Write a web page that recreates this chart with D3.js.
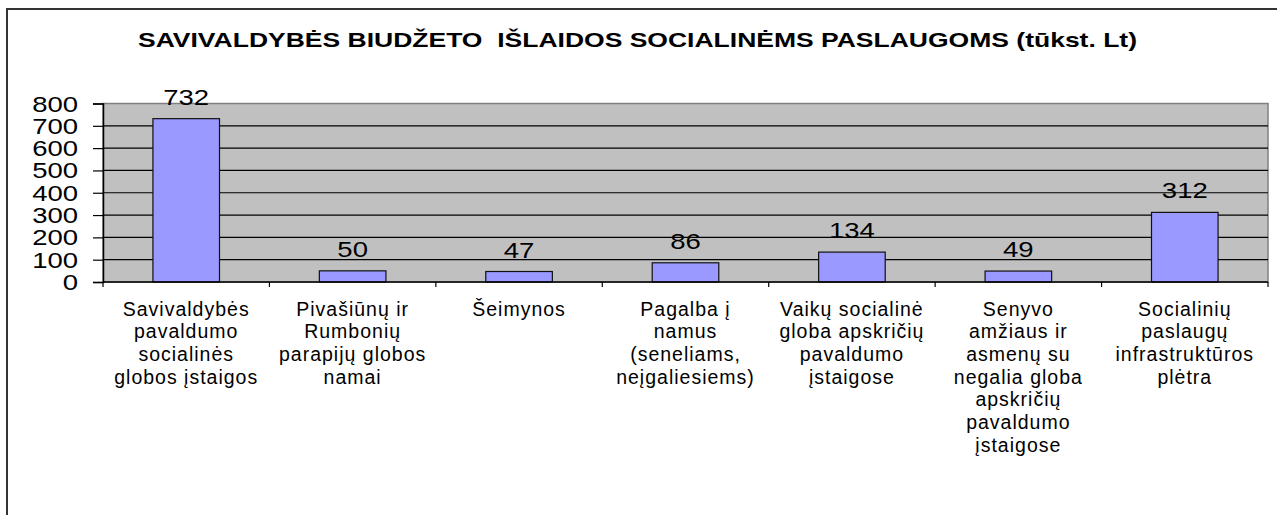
<!DOCTYPE html>
<html>
<head>
<meta charset="utf-8">
<script src="https://cdn.jsdelivr.net/npm/d3@7"></script>
<style>
  body { margin: 0; background: #fff; }
  text { font-family: "Liberation Sans", Arial, sans-serif; fill: #000; }
</style>
</head>
<body>
<div id="container"></div>
<script>
// chart data
const categories = [
    ["Savivaldybės", "pavaldumo", "socialinės", "globos įstaigos"],
    ["Pivašiūnų ir", "Rumbonių", "parapijų globos", "namai"],
    ["Šeimynos"],
    ["Pagalba į", "namus", "(seneliams,", "neįgaliesiems)"],
    ["Vaikų socialinė", "globa apskričių", "pavaldumo", "įstaigose"],
    ["Senyvo", "amžiaus ir", "asmenų su", "negalia globa", "apskričių", "pavaldumo", "įstaigose"],
    ["Socialinių", "paslaugų", "infrastruktūros", "plėtra"]
];
const values = [732, 50, 47, 86, 134, 49, 312];
const yTicks = [0, 100, 200, 300, 400, 500, 600, 700, 800];
const title = "SAVIVALDYBĖS BIUDŽETO  IŠLAIDOS SOCIALINĖMS PASLAUGOMS (tūkst. Lt)";

// layout constants
const WIDTH = 1277;
const HEIGHT = 515;
const PLOT = { left: 103, right: 1268, top: 103.5, bottom: 282 };
const NUM_STRETCH = 1.25;

const svg = d3.select("#container")
    .append("svg")
    .attr("width", WIDTH)
    .attr("height", HEIGHT);

// outer chart frame
svg.append("rect")
    .attr("x", 7).attr("y", 9)
    .attr("width", WIDTH + 20).attr("height", HEIGHT + 20)
    .attr("fill", "none")
    .attr("stroke", "#333")
    .attr("stroke-width", 2);

// title
svg.append("text")
    .attr("x", 138)
    .attr("y", 47)
    .attr("font-size", 21)
    .attr("font-weight", "bold")
    .attr("textLength", 999)
    .attr("lengthAdjust", "spacingAndGlyphs")
    .style("white-space", "pre")
    .text(title);

const xScale = d3.scaleBand()
    .domain(d3.range(values.length))
    .range([PLOT.left, PLOT.right])
    .paddingInner(0.6)
    .paddingOuter(0.3);

const xGroup = d3.scaleBand()
    .domain(d3.range(values.length))
    .range([PLOT.left, PLOT.right]);

const yScale = d3.scaleLinear()
    .domain([0, 800])
    .range([PLOT.bottom, PLOT.top]);

// plot background
svg.append("rect")
    .attr("x", PLOT.left).attr("y", PLOT.top)
    .attr("width", PLOT.right - PLOT.left)
    .attr("height", PLOT.bottom - PLOT.top)
    .attr("fill", "#c0c0c0")
    .attr("stroke", "#808080")
    .attr("stroke-width", 1.5);

// gridlines
svg.append("g")
    .selectAll("line")
    .data(yTicks.filter(d => d > 0 && d < 800))
    .enter()
    .append("line")
    .attr("x1", PLOT.left).attr("x2", PLOT.right)
    .attr("y1", d => yScale(d)).attr("y2", d => yScale(d))
    .attr("stroke", "#000")
    .attr("stroke-width", 1.2);

// y axis
const leftAxis = d3.axisLeft(yScale)
    .tickValues(yTicks)
    .tickSize(10)
    .tickPadding(0)
    .tickFormat("");

const yAxisG = svg.append("g")
    .attr("transform", "translate(" + PLOT.left + ",0)")
    .call(leftAxis);
yAxisG.select(".domain").attr("stroke", "#000").attr("stroke-width", 1.5);
yAxisG.selectAll(".tick line").attr("stroke", "#000").attr("stroke-width", 1.2);

svg.append("g")
    .selectAll("text")
    .data(yTicks)
    .enter()
    .append("text")
    .attr("transform", d => "translate(78," + (yScale(d) + 8) + ") scale(" + NUM_STRETCH + ",1)")
    .attr("text-anchor", "end")
    .attr("font-size", 22)
    .text(d => d);

// bars
svg.append("g")
    .selectAll("rect")
    .data(values)
    .enter()
    .append("rect")
    .attr("x", (d, i) => xScale(i))
    .attr("y", d => yScale(d))
    .attr("width", xScale.bandwidth())
    .attr("height", d => PLOT.bottom - yScale(d))
    .attr("fill", "#9999ff")
    .attr("stroke", "#111")
    .attr("stroke-width", 1.2);

// value labels
svg.append("g")
    .selectAll("text")
    .data(values)
    .enter()
    .append("text")
    .attr("transform", (d, i) => "translate(" + (xScale(i) + xScale.bandwidth() / 2) + "," + (yScale(d) - 14) + ") scale(" + NUM_STRETCH + ",1)")
    .attr("text-anchor", "middle")
    .attr("font-size", 22)
    .text(d => d);

// x axis with ticks on category boundaries
svg.append("line")
    .attr("x1", PLOT.left).attr("x2", PLOT.right)
    .attr("y1", PLOT.bottom).attr("y2", PLOT.bottom)
    .attr("stroke", "#000")
    .attr("stroke-width", 1.5);

svg.append("g")
    .selectAll("line")
    .data(d3.range(values.length + 1))
    .enter()
    .append("line")
    .attr("x1", i => i < values.length ? xGroup(i) : PLOT.right)
    .attr("x2", i => i < values.length ? xGroup(i) : PLOT.right)
    .attr("y1", PLOT.bottom).attr("y2", PLOT.bottom + 5)
    .attr("stroke", "#000")
    .attr("stroke-width", 1.2);

// category labels
const catG = svg.append("g")
    .selectAll("text")
    .data(categories)
    .enter()
    .append("text")
    .attr("text-anchor", "middle")
    .attr("font-size", 19.5)
    .attr("letter-spacing", 1)
    .attr("y", 315.5);

catG.selectAll("tspan")
    .data((d, i) => d.map(line => ({ line, i })))
    .enter()
    .append("tspan")
    .attr("x", d => xGroup(d.i) + xGroup.bandwidth() / 2)
    .attr("dy", (d, j) => j === 0 ? 0 : 22.7)
    .text(d => d.line);
</script>
</body>
</html>
